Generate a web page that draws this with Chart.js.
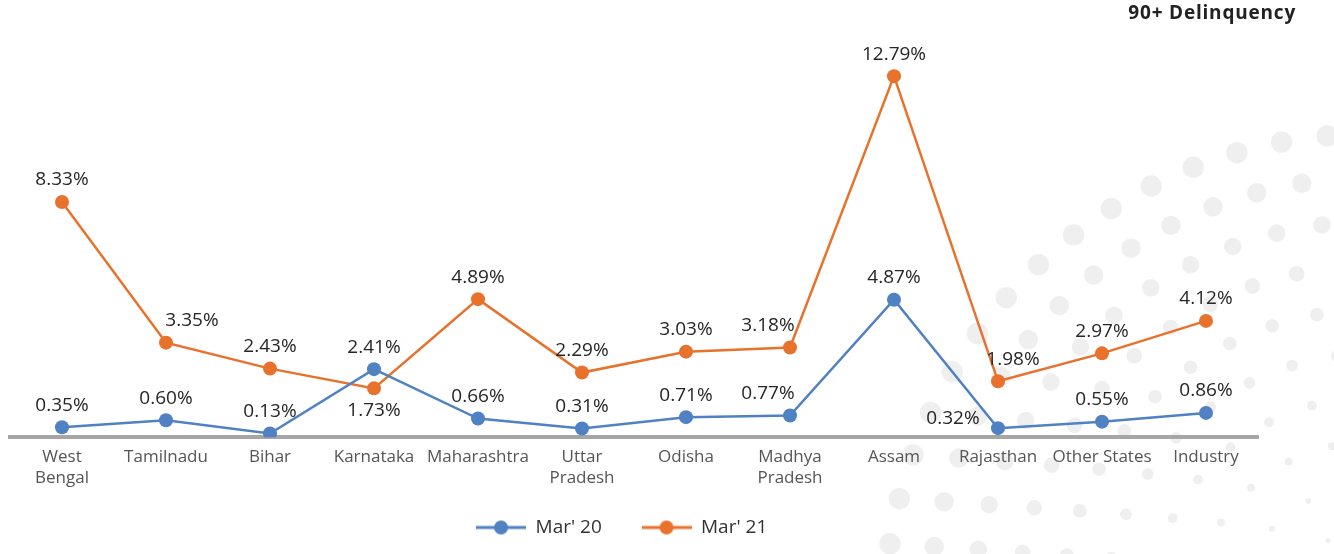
<!DOCTYPE html>
<html>
<head>
<meta charset="utf-8">
<script src="https://cdn.jsdelivr.net/npm/chart.js@4/dist/chart.umd.min.js"></script>
<style>
  html, body { margin: 0; padding: 0; background: #fff; }
  #wrap { width: 1334px; height: 554px; position: relative; }
</style>
</head>
<body>
<div id="wrap"><canvas id="delinquencyChart"></canvas></div>
<script>
const states = [
    ['West', 'Bengal'], 'Tamilnadu', 'Bihar', 'Karnataka', 'Maharashtra', ['Uttar', 'Pradesh'],
    'Odisha', ['Madhya', 'Pradesh'], 'Assam', 'Rajasthan', 'Other States', 'Industry'
];
const mar20 = [0.35, 0.60, 0.13, 2.41, 0.66, 0.31, 0.71, 0.77, 4.87, 0.32, 0.55, 0.86];
const mar21 = [8.33, 3.35, 2.43, 1.73, 4.89, 2.29, 3.03, 3.18, 12.79, 1.98, 2.97, 4.12];
const seriesNames = ["Mar' 20", "Mar' 21"];

// where each value label sits relative to its point
const labelPlace = [
    ['top', 'top', 'top', 'top', 'top', 'top', 'top', 'topLeft', 'top', 'left', 'top', 'top'],
    ['top', 'topRight', 'top', 'bottom', 'top', 'top', 'top', 'topLeft', 'top', 'nudgeRight', 'top', 'top']
];

const blue = '#4f81c3';
const orange = '#e8722c';
const fontFamily = "'Open Sans', 'Segoe UI', sans-serif";

function legendMarker(color) {
    const c = document.createElement('canvas');
    c.width = 50; c.height = 16;
    const g = c.getContext('2d');
    g.strokeStyle = color;
    g.lineWidth = 3;
    g.beginPath(); g.moveTo(0, 8); g.lineTo(50, 8); g.stroke();
    g.fillStyle = color;
    g.beginPath(); g.arc(25, 8, 7, 0, Math.PI * 2); g.fill();
    return c;
}

// light grey dotted arcs in the lower right corner
const bgDots = {
    id: 'bgDots',
    beforeDraw(chart) {
        const c = chart.ctx;
        c.save();
        c.fillStyle = '#efefef';
        const cx = 1370, cy = 620;
        for (let r = 90; r <= 520; r += 44) {
            const step = 46 / r;
            for (let a = Math.PI * 1.02; a <= Math.PI * 1.55; a += step) {
                const x = cx + r * Math.cos(a);
                const y = cy + r * Math.sin(a);
                if (x > 1334 + 10 || y > 554 + 10) continue;
                c.beginPath();
                c.arc(x, y, Math.max(2.5, r * 0.022), 0, Math.PI * 2);
                c.fill();
            }
        }
        c.restore();
    }
};

const valueLabels = {
    id: 'valueLabels',
    afterDatasetsDraw(chart) {
        const c = chart.ctx;
        c.save();
        c.font = '19px ' + fontFamily;
        c.fillStyle = '#262626';
        c.textBaseline = 'middle';
        chart.data.datasets.forEach((ds, di) => {
            chart.getDatasetMeta(di).data.forEach((pt, i) => {
                const place = labelPlace[di][i];
                let x = pt.x, y = pt.y - 22;
                c.textAlign = 'center';
                if (place === 'bottom') y = pt.y + 22;
                if (place === 'left') { x = pt.x - 45; y = pt.y - 10; }
                if (place === 'topLeft') x = pt.x - 22;
                if (place === 'topRight') x = pt.x + 26;
                if (place === 'nudgeRight') x = pt.x + 15;
                c.fillText(ds.data[i].toFixed(2) + '%', x, y);
            });
        });
        c.restore();
    }
};

const cornerTitle = {
    id: 'cornerTitle',
    afterDraw(chart) {
        const c = chart.ctx;
        c.save();
        c.font = 'bold 19px ' + fontFamily;
        c.letterSpacing = '0.8px';
        c.fillStyle = '#222';
        c.textAlign = 'right';
        c.textBaseline = 'middle';
        c.fillText('90+ Delinquency', 1296, 14);
        c.restore();
    }
};

const ctx = document.getElementById('delinquencyChart').getContext('2d');
const chart = new Chart(ctx, {
    type: 'line',
    data: {
        labels: states,
        datasets: [
            {
                label: seriesNames[0],
                data: mar20,
                borderColor: blue,
                backgroundColor: blue,
                borderWidth: 2.5,
                pointRadius: 7,
                pointBorderWidth: 0,
                pointStyle: 'circle',
                tension: 0,
                fill: false
            },
            {
                label: seriesNames[1],
                data: mar21,
                borderColor: orange,
                backgroundColor: orange,
                borderWidth: 2.5,
                pointRadius: 7,
                pointBorderWidth: 0,
                pointStyle: 'circle',
                tension: 0,
                fill: false
            }
        ]
    },
    options: {
        responsive: true,
        maintainAspectRatio: false,
        animation: false,
        layout: { padding: { left: 10, right: 76, top: 42, bottom: 7 } },
        scales: {
            x: {
                offset: true,
                grid: { display: false, drawTicks: false },
                border: { color: '#a6a6a6', width: 4 },
                ticks: {
                    color: '#555',
                    font: { family: fontFamily, size: 17 },
                    padding: 10,
                    maxRotation: 0,
                    autoSkip: false
                }
            },
            y: {
                display: false,
                min: 0,
                max: 14
            }
        },
        plugins: {
            legend: {
                position: 'bottom',
                labels: {
                    color: '#333',
                    font: { family: fontFamily, size: 19 },
                    usePointStyle: true,
                    pointStyleWidth: 50,
                    padding: 20,
                    generateLabels(ch) {
                        // trailing spaces widen the gap between the two items
                        const gaps = ['    ', '     '];
                        return ch.data.datasets.map((ds, i) => ({
                            text: ds.label + gaps[i],
                            pointStyle: legendMarker(ds.borderColor),
                            fillStyle: ds.borderColor,
                            strokeStyle: ds.borderColor,
                            lineWidth: 0,
                            fontColor: '#333',
                            hidden: false,
                            datasetIndex: i
                        }));
                    }
                }
            },
            tooltip: { enabled: false }
        }
    },
    plugins: [bgDots, valueLabels, cornerTitle]
});
</script>
</body>
</html>
